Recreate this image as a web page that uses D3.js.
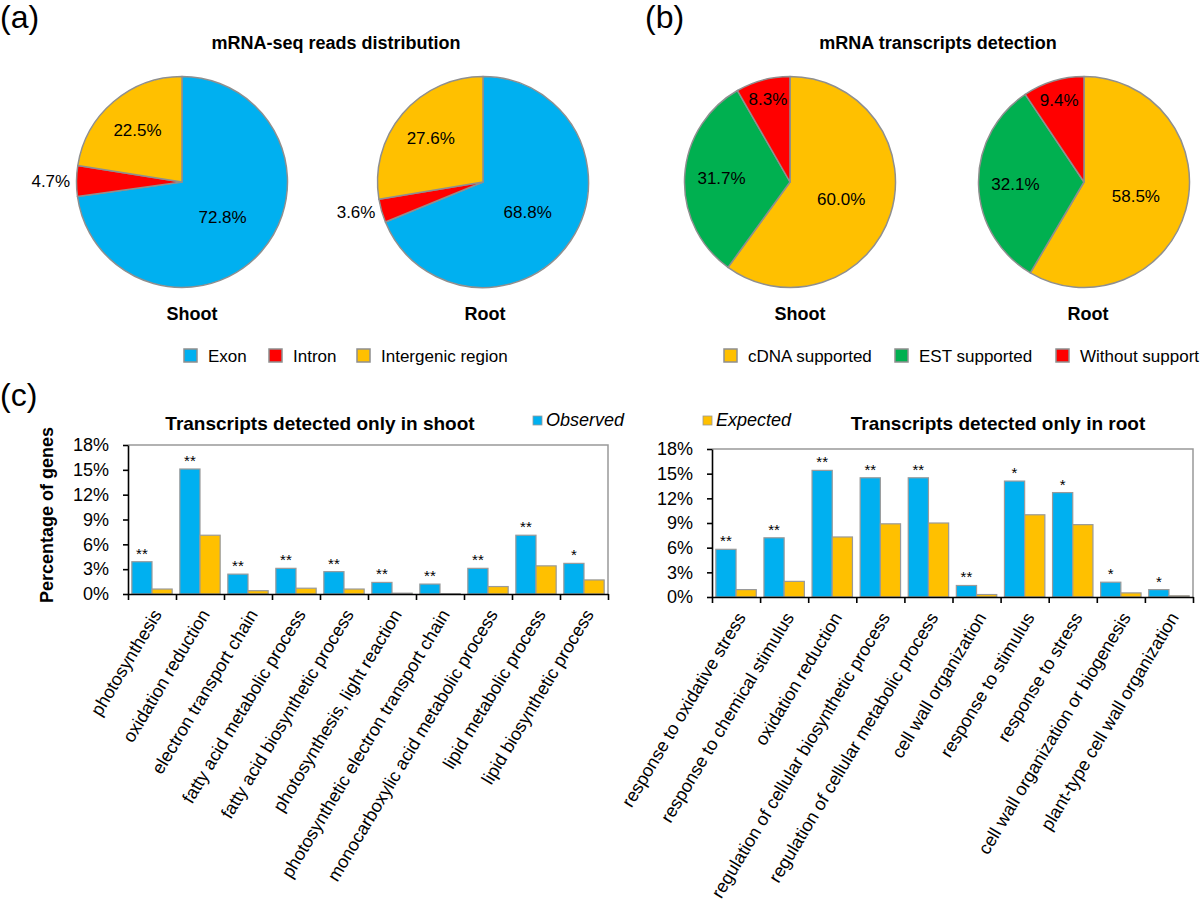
<!DOCTYPE html>
<html><head><meta charset="utf-8">
<script src="https://cdn.jsdelivr.net/npm/d3@7"></script>
<style>
body{margin:0;background:#fff;}
text{font-family:"Liberation Sans",Arial,Helvetica,sans-serif;fill:#000;}
</style></head>
<body><svg id="c" width="1200" height="909"></svg>
<script>
// ---------- data ----------
const pieALabels = ["Exon", "Intron", "Intergenic region"];
const pieAShoot = [72.8, 4.7, 22.5];
const pieARoot = [68.8, 3.6, 27.6];
const pieBLabels = ["cDNA supported", "EST supported", "Without support"];
const pieBShoot = [60.0, 31.7, 8.3];
const pieBRoot = [58.5, 32.1, 9.4];

const shootCats = ["photosynthesis", "oxidation reduction", "electron transport chain",
  "fatty acid metabolic process", "fatty acid biosynthetic process",
  "photosynthesis, light reaction", "photosynthetic electron transport chain",
  "monocarboxylic acid metabolic process", "lipid metabolic process", "lipid biosynthetic process"];
const shootObserved = [3.9, 15.1, 2.4, 3.1, 2.7, 1.4, 1.2, 3.1, 7.1, 3.7];
const shootExpected = [0.6, 7.1, 0.4, 0.7, 0.6, 0.1, 0.05, 0.9, 3.4, 1.7];
const shootSig = ["**", "**", "**", "**", "**", "**", "**", "**", "**", "*"];

const rootCats = ["response to oxidative stress", "response to chemical stimulus", "oxidation reduction",
  "regulation of cellular biosynthetic process", "regulation of cellular metabolic process",
  "cell wall organization", "response to stimulus", "response to stress",
  "cell wall organization or biogenesis", "plant-type cell wall organization"];
const rootObserved = [5.8, 7.2, 15.4, 14.5, 14.5, 1.4, 14.1, 12.7, 1.8, 0.9];
const rootExpected = [0.9, 1.9, 7.3, 8.9, 9.0, 0.3, 10.0, 8.8, 0.5, 0.15];
const rootSig = ["**", "**", "**", "**", "**", "**", "*", "*", "*", "*"];

const yTicks = [0, 3, 6, 9, 12, 15, 18];
const seriesNames = ["Observed", "Expected"];

// ---------- style ----------
const BLUE = "#00B0F0", RED = "#FF0000", GOLD = "#FFC000", GREEN = "#00B050", EDGE = "#8f8f8f";
const svg = d3.select("#c");

// panel letters
svg.append("text").attr("x", 0).attr("y", 28).attr("font-size", 32).text("(a)");
svg.append("text").attr("x", 645).attr("y", 28).attr("font-size", 32).text("(b)");
svg.append("text").attr("x", 0).attr("y", 406).attr("font-size", 32).text("(c)");

// ---------- pies ----------
const R = 105.5;
function drawPie(cx, cy, values, colors, name, nameDx, labelMode) {
  const g = svg.append("g").attr("transform", `translate(${cx},${cy})`);
  const arcs = d3.pie().sort(null).value(d => d)(values);
  const arc = d3.arc().innerRadius(0).outerRadius(R);
  g.selectAll("path").data(arcs).join("path")
    .attr("d", arc).attr("fill", (d, i) => colors[i])
    .attr("stroke", EDGE).attr("stroke-width", 1.5).attr("stroke-linejoin", "round");
  arcs.forEach(d => {
    const v = d.data;
    let f, anchor = "middle";
    if (v > 50) f = 0.51;
    else if (v >= 10) f = 0.65;
    else if (labelMode === "outside") { f = 1.06; anchor = "end"; }
    else f = 0.81;
    const la = d3.arc().innerRadius(R * f).outerRadius(R * f);
    const [x, y] = la.centroid(d);
    g.append("text").attr("x", x).attr("y", y).attr("dy", "0.35em")
      .attr("text-anchor", anchor).attr("font-size", 17)
      .text(v.toFixed(1) + "%");
  });
  svg.append("text").attr("x", cx + nameDx).attr("y", 314).attr("dy", "0.35em")
    .attr("text-anchor", "middle").attr("font-size", 18).attr("font-weight", "bold").text(name);
}
const colA = [BLUE, RED, GOLD];
const colB = [GOLD, GREEN, RED];
drawPie(182, 182, pieAShoot, colA, "Shoot", 10, "outside");
drawPie(483, 182, pieARoot, colA, "Root", 2, "outside");
drawPie(790, 182, pieBShoot, colB, "Shoot", 10, "inside");
drawPie(1084, 182, pieBRoot, colB, "Root", 4, "inside");

svg.append("text").attr("x", 336).attr("y", 43).attr("dy", "0.35em").attr("text-anchor", "middle")
  .attr("font-size", 18).attr("font-weight", "bold").text("mRNA-seq reads distribution");
svg.append("text").attr("x", 938).attr("y", 43).attr("dy", "0.35em").attr("text-anchor", "middle")
  .attr("font-size", 18).attr("font-weight", "bold").text("mRNA transcripts detection");

function pieLegend(xs, labels, colors) {
  labels.forEach((l, i) => {
    svg.append("rect").attr("x", xs[i]).attr("y", 349).attr("width", 13).attr("height", 13)
      .attr("fill", colors[i]).attr("stroke", EDGE).attr("stroke-width", 1.5);
    svg.append("text").attr("x", xs[i] + 24).attr("y", 356).attr("dy", "0.35em")
      .attr("font-size", 17).text(l);
  });
}
pieLegend([184, 269, 357], pieALabels, colA);
pieLegend([724, 895, 1056], pieBLabels, colB);

// ---------- bar charts ----------
function barChart(opt) {
  const { x0, x1, yTop, yBot, cats, obs, exp, sig, title, titleX } = opt;
  const y = d3.scaleLinear().domain([0, 18]).range([yBot, yTop]);
  const xb = d3.scaleBand().domain(cats).range([x0, x1]).padding(0);
  const xs = d3.scaleBand().domain(seriesNames).range([0, xb.bandwidth()]).paddingInner(0).paddingOuter(0.19);
  const xl = d3.scaleLinear().domain([0, cats.length]).range([x0, x1]);
  const g = svg.append("g");

  // plot border (top and right)
  g.append("path").attr("d", `M${x0},${yTop}H${x1}V${yBot}`).attr("fill", "none")
    .attr("stroke", "#999").attr("stroke-width", 1.5);

  const data = cats.map((c, i) => ({ c, v: [obs[i], exp[i]], s: sig[i] }));
  const grp = g.selectAll("g.cat").data(data).join("g").attr("transform", d => `translate(${xb(d.c)},0)`);
  grp.selectAll("rect").data(d => d.v.map((v, k) => ({ k: seriesNames[k], v }))).join("rect")
    .attr("x", d => xs(d.k)).attr("width", xs.bandwidth())
    .attr("y", d => y(d.v)).attr("height", d => yBot - y(d.v))
    .attr("fill", d => d.k === "Observed" ? BLUE : GOLD)
    .attr("stroke", "#9a9a9a").attr("stroke-width", 1.2);
  grp.append("text").attr("x", xs("Observed") + xs.bandwidth() / 2)
    .attr("y", d => y(d.v[0]) - 3).attr("text-anchor", "middle").attr("font-size", 15)
    .text(d => d.s);

  // axes
  const ya = g.append("g").attr("transform", `translate(${x0},0)`)
    .call(d3.axisLeft(y).tickValues(yTicks).tickFormat(d => d + "%").tickSize(5).tickSizeOuter(0).tickPadding(14));
  ya.selectAll("text").attr("font-size", 18).attr("font-family", '"Liberation Sans",Arial,sans-serif');
  ya.selectAll("line,path").attr("stroke", "#000").attr("stroke-width", 1.6);
  const xa = g.append("g").attr("transform", `translate(0,${yBot})`)
    .call(d3.axisBottom(xl).ticks(cats.length).tickFormat("").tickSize(6).tickSizeOuter(0));
  xa.selectAll("line,path").attr("stroke", "#000").attr("stroke-width", 1.6);

  // category labels
  g.selectAll("text.cl").data(cats).join("text").attr("class", "cl")
    .attr("transform", d => `translate(${xb(d) + xb.bandwidth() / 2 + 5},${yBot + 17}) rotate(-59)`)
    .attr("text-anchor", "end").attr("dy", "0.35em").attr("font-size", 18).text(d => d);

  svg.append("text").attr("x", titleX).attr("y", 423).attr("dy", "0.35em").attr("text-anchor", "middle")
    .attr("font-size", 19).attr("font-weight", "bold").text(title);
}
barChart({ x0: 128, x1: 608, yTop: 445, yBot: 594, cats: shootCats, obs: shootObserved, exp: shootExpected,
  sig: shootSig, title: "Transcripts detected only in shoot", titleX: 320 });
barChart({ x0: 712, x1: 1193, yTop: 449, yBot: 597, cats: rootCats, obs: rootObserved, exp: rootExpected,
  sig: rootSig, title: "Transcripts detected only in root", titleX: 998 });

// y-axis title
svg.append("text").attr("transform", "translate(47,515) rotate(-90)").attr("dy", "0.35em")
  .attr("text-anchor", "middle").attr("font-size", 18).attr("font-weight", "bold").text("Percentage of genes");

// series legend
[[533, "Observed", BLUE], [703, "Expected", GOLD]].forEach(([x, t, c]) => {
  svg.append("rect").attr("x", x).attr("y", 416).attr("width", 9).attr("height", 9)
    .attr("fill", c).attr("stroke", "#9a9a9a").attr("stroke-width", 0.8);
  svg.append("text").attr("x", x + 13).attr("y", 420).attr("dy", "0.35em")
    .attr("font-size", 18).attr("font-style", "italic").text(t);
});
</script></body></html>
